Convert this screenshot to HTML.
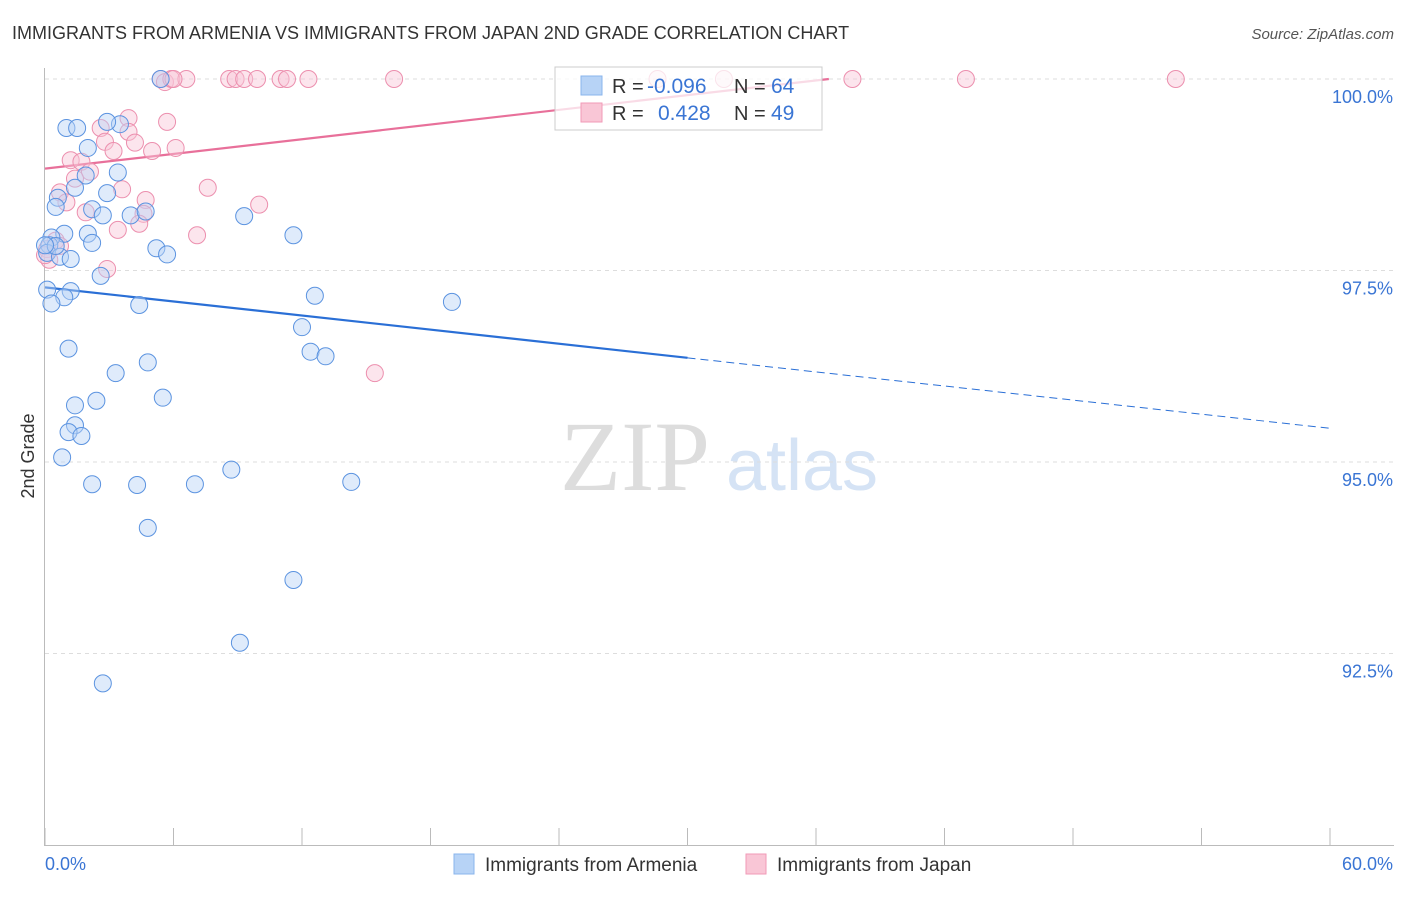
<!DOCTYPE html>
<html><head><meta charset="utf-8"><style>
body{margin:0;background:#fff;font-family:"Liberation Sans",sans-serif;}
</style></head><body>
<svg id="chart" width="1406" height="892" viewBox="0 0 1406 892" xmlns="http://www.w3.org/2000/svg" font-family="Liberation Sans, sans-serif">
<text x="12" y="39" font-size="18" fill="#333">IMMIGRANTS FROM ARMENIA VS IMMIGRANTS FROM JAPAN 2ND GRADE CORRELATION CHART</text>
<text x="1394" y="39" font-size="15" fill="#555" text-anchor="end" font-style="italic">Source: ZipAtlas.com</text>
<text transform="translate(34,456) rotate(-90)" font-size="18" fill="#333" text-anchor="middle">2nd Grade</text>
<g>
<text x="635" y="490" font-size="100" fill="#ddd" style="font-family:'Liberation Serif',serif" text-anchor="middle">ZIP</text>
<text x="802" y="490" font-size="72" fill="#d5e3f5" text-anchor="middle">atlas</text>
</g>
<g id="grid"></g><g id="axes"></g><g id="lines"></g><g id="points"></g>
<g>
<rect x="555" y="67" width="267" height="63" fill="#fff" fill-opacity="0.75" stroke="#ccc"/>
<rect x="581" y="76" width="21" height="19" fill="#b7d3f6" stroke="#8ab4ec"/>
<rect x="581" y="103" width="21" height="19" fill="#f9c6d6" stroke="#f19ab7"/>
<text x="612" y="93" font-size="20" fill="#333">R =</text>
<text x="647" y="93" font-size="21" fill="#3a75d4">-0.096</text>
<text x="734" y="93" font-size="20" fill="#333">N =</text>
<text x="771" y="93" font-size="21" fill="#3a75d4">64</text>
<text x="612" y="120" font-size="20" fill="#333">R =</text>
<text x="658" y="120" font-size="21" fill="#3a75d4">0.428</text>
<text x="734" y="120" font-size="20" fill="#333">N =</text>
<text x="771" y="120" font-size="21" fill="#3a75d4">49</text>
</g>
<g>
<rect x="454" y="854" width="20" height="20" fill="#b7d3f6" stroke="#8ab4ec"/>
<text x="485" y="871" font-size="19" fill="#333">Immigrants from Armenia</text>
<rect x="746" y="854" width="20" height="20" fill="#f9c6d6" stroke="#f19ab7"/>
<text x="777" y="871" font-size="19" fill="#333">Immigrants from Japan</text>
</g>
<text x="45" y="870" font-size="18" fill="#3a75d4">0.0%</text>
<text x="1393" y="870" font-size="18" fill="#3a75d4" text-anchor="end">60.0%</text>
</svg>
<script>
const yTicks=[100,97.5,95,92.5];
const yTickLabels=["100.0%","97.5%","95.0%","92.5%"];
const xTicks=[0,6,12,18,24,30,36,42,48,54,60];
const armeniaX=[5.4,1.0,1.5,3.5,2.9,2.0,3.4,1.9,1.4,2.9,0.6,0.5,2.2,2.7,4.0,4.7,9.3,0.9,2.0,0.3,11.6,0.2,2.2,5.2,5.7,0.1,0.7,1.2,2.6,0.1,1.2,0.9,0.3,4.4,12.6,19.0,12.0,1.1,12.4,13.1,4.8,3.3,2.4,1.4,5.5,1.4,1.1,1.7,0.8,8.7,2.2,4.3,7.0,14.3,4.8,11.6,9.1,2.7,0.5,0.0];
const armeniaY=[100,99.36,99.36,99.41,99.44,99.1,98.78,98.74,98.58,98.51,98.45,98.33,98.3,98.22,98.22,98.27,98.21,97.98,97.98,97.93,97.96,97.83,97.86,97.79,97.71,97.73,97.68,97.65,97.43,97.25,97.23,97.15,97.07,97.05,97.17,97.09,96.76,96.48,96.44,96.38,96.3,96.16,95.8,95.74,95.84,95.48,95.39,95.34,95.06,94.9,94.71,94.7,94.71,94.74,94.14,93.46,92.64,92.11,97.82,97.83];
const japanX=[5.4,5.6,5.9,6.6,6.0,8.6,8.9,9.3,9.9,11.0,11.3,12.3,16.3,28.6,31.7,37.7,43.0,52.8,3.9,5.7,2.6,3.9,2.8,4.2,6.1,5.0,3.2,1.2,1.7,2.1,1.4,3.6,7.6,0.7,1.0,4.7,10.0,1.9,4.6,4.4,3.4,7.1,0.5,0.1,0.7,0.2,2.9,15.4,0.0];
const japanY=[100,99.96,100,100,100,100,100,100,100,100,100,100,100,100,100,100,100,100,99.49,99.44,99.36,99.31,99.18,99.17,99.1,99.06,99.06,98.94,98.92,98.79,98.7,98.56,98.58,98.52,98.39,98.42,98.36,98.26,98.24,98.11,98.03,97.96,97.89,97.78,97.82,97.64,97.52,96.16,97.7];
const armeniaTrend=[[0,97.28],[30,96.36],[60,95.44]];
const japanTrend=[[0,98.83],[36.6,100]];
const NS="http://www.w3.org/2000/svg";
const X=v=>45+v/60*1285;
const Y=v=>79+(100-v)*76.6;
function mk(tag,attrs,parent){const e=document.createElementNS(NS,tag);for(const k in attrs)e.setAttribute(k,attrs[k]);document.getElementById(parent).appendChild(e);return e;}
yTicks.forEach((t,i)=>{
 const l=mk('line',{x1:45,x2:1394,y1:Y(t),y2:Y(t),stroke:'#ddd','stroke-dasharray':'4,4'},'grid');
 
 
 const tx=mk('text',{x:1393,y:Y(t)+24,'font-size':18,fill:'#3a75d4','text-anchor':'end'},'grid');
 tx.textContent=yTickLabels[i];
 
 
});
const ax=mk('line',{x1:44.5,x2:44.5,y1:68,y2:845,stroke:'#bbb'},'axes');


const bx=mk('line',{x1:44,x2:1394,y1:845.5,y2:845.5,stroke:'#bbb'},'axes');


xTicks.forEach(t=>{const l=mk('line',{x1:X(t),x2:X(t),y1:828,y2:845,stroke:'#bbb'},'axes');
 
 });
function trend(pts,color,name,dashFrom){
 for(let i=0;i<pts.length-1;i++){
  const a=pts[i],b=pts[i+1];
  const dashed=dashFrom!==null&&i>=dashFrom;
  const l=mk('line',{x1:X(a[0]),y1:Y(a[1]),x2:X(b[0]),y2:Y(b[1]),stroke:color,'stroke-width':dashed?1:2.2,'stroke-dasharray':dashed?'8,5':'none'},'lines');
  
  
 }
}
function pts(xs,ys,fill,stroke,name){
 xs.forEach((x,i)=>{const c=mk('circle',{cx:X(x),cy:Y(ys[i]),r:8.5,fill:fill,'fill-opacity':0.45,stroke:stroke,'stroke-width':1},'points');
 
 });
}
pts(japanX,japanY,'#f9c6d6','#ec8fae','japan-point');
pts(armeniaX,armeniaY,'#b7d3f6','#5b93e0','armenia-point');
trend(armeniaTrend,'#2a6fd6','armenia-trend-line',1);
trend(japanTrend,'#e8709a','japan-trend-line',null);
</script>
</body></html>
